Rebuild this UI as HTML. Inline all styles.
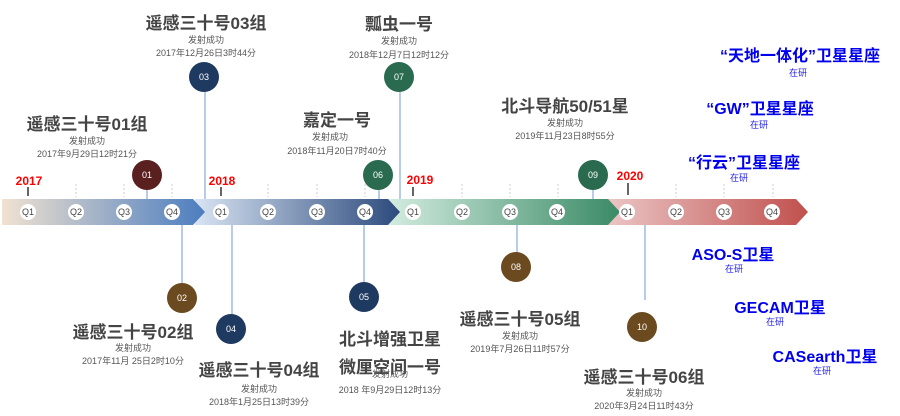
<!DOCTYPE html>
<html><head><meta charset="utf-8"><style>
html,body{margin:0;padding:0;background:#fff;width:900px;height:416px;overflow:hidden}
svg text{font-family:"Liberation Sans","Noto Sans CJK SC",sans-serif}
.t{font-size:17px;font-weight:bold;fill:#444;text-anchor:middle}
.s{font-size:9px;fill:#555;text-anchor:middle}
.b{font-size:16px;font-weight:bold;fill:#0000ee;text-anchor:middle}
.bs{font-size:9px;fill:#2222ee;text-anchor:middle}
.y{font-size:12px;font-weight:bold;fill:#ff0000;text-anchor:middle}
.q{font-size:9px;fill:#444;text-anchor:middle}
.n{font-size:9px;fill:#fff;text-anchor:middle}
</style></head><body>
<svg width="900" height="416" viewBox="0 0 900 416">
<defs>
<linearGradient id="g1" x1="0" x2="1"><stop offset="0" stop-color="#f1e2d0"/><stop offset="1" stop-color="#4b7dbf"/></linearGradient>
<linearGradient id="g2" x1="0" x2="1"><stop offset="0" stop-color="#d9e4f3"/><stop offset="1" stop-color="#2b4a7c"/></linearGradient>
<linearGradient id="g3" x1="0" x2="1"><stop offset="0" stop-color="#d3ece0"/><stop offset="1" stop-color="#3a8a66"/></linearGradient>
<linearGradient id="g4" x1="0" x2="1"><stop offset="0" stop-color="#ebc6c6"/><stop offset="1" stop-color="#c0504d"/></linearGradient>
</defs>
<!-- connector lines -->
<g stroke="#8fb0dc" stroke-width="1.3">
<line x1="147" y1="188" x2="147" y2="200"/>
<line x1="182" y1="225" x2="182" y2="284"/>
<line x1="205" y1="92" x2="205" y2="200"/>
<line x1="232" y1="225" x2="232" y2="315"/>
<line x1="364" y1="225" x2="364" y2="283"/>
<line x1="379" y1="188" x2="379" y2="200"/>
<line x1="400" y1="92" x2="400" y2="200"/>
<line x1="517" y1="225" x2="517" y2="253"/>
<line x1="593" y1="188" x2="593" y2="200"/>
<line x1="645" y1="225" x2="645" y2="300"/>
</g>
<!-- bands -->
<polygon points="607,199 796,199 808,212 796,225 607,225" fill="url(#g4)"/>
<polygon points="388,199 608,199 620,212 608,225 388,225" fill="url(#g3)"/>
<polygon points="195,199 388,199 400,212 388,225 195,225" fill="url(#g2)"/>
<polygon points="2,199 193,199 205,212 193,225 2,225" fill="url(#g1)"/>
<!-- dotted ticks -->
<g stroke="#ccc" stroke-dasharray="2,2" stroke-width="1">
<line x1="76" y1="184" x2="76" y2="197"/><line x1="124" y1="184" x2="124" y2="197"/><line x1="172" y1="184" x2="172" y2="197"/>
<line x1="268" y1="184" x2="268" y2="197"/><line x1="317" y1="184" x2="317" y2="197"/><line x1="365" y1="184" x2="365" y2="197"/>
<line x1="462" y1="184" x2="462" y2="197"/><line x1="510" y1="184" x2="510" y2="197"/><line x1="558" y1="184" x2="558" y2="197"/>
<line x1="676" y1="184" x2="676" y2="197"/><line x1="724" y1="184" x2="724" y2="197"/><line x1="773" y1="184" x2="773" y2="197"/>
</g>
<g stroke="#333" stroke-width="1.5">
<line x1="28" y1="187" x2="28" y2="196"/><line x1="221" y1="187" x2="221" y2="196"/><line x1="413" y1="187" x2="413" y2="196"/><line x1="628" y1="183" x2="628" y2="195"/>
</g>
<text class="y" x="29" y="185">2017</text><text class="y" x="222" y="185">2018</text><text class="y" x="420" y="184">2019</text><text class="y" x="630" y="180">2020</text>
<!-- Q circles -->
<g fill="#fff">
<circle cx="28" cy="212" r="8"/><circle cx="76" cy="212" r="8"/><circle cx="124" cy="212" r="8"/><circle cx="172" cy="212" r="8"/>
<circle cx="221" cy="212" r="8"/><circle cx="268" cy="212" r="8"/><circle cx="317" cy="212" r="8"/><circle cx="365" cy="212" r="8"/>
<circle cx="413" cy="212" r="8"/><circle cx="462" cy="212" r="8"/><circle cx="510" cy="212" r="8"/><circle cx="557" cy="212" r="8"/>
<circle cx="627" cy="212" r="8"/><circle cx="676" cy="212" r="8"/><circle cx="724" cy="212" r="8"/><circle cx="772" cy="212" r="8"/>
</g>
<g class="q">
<text class="q" x="28" y="215">Q1</text><text class="q" x="76" y="215">Q2</text><text class="q" x="124" y="215">Q3</text><text class="q" x="172" y="215">Q4</text>
<text class="q" x="221" y="215">Q1</text><text class="q" x="268" y="215">Q2</text><text class="q" x="317" y="215">Q3</text><text class="q" x="365" y="215">Q4</text>
<text class="q" x="413" y="215">Q1</text><text class="q" x="462" y="215">Q2</text><text class="q" x="510" y="215">Q3</text><text class="q" x="557" y="215">Q4</text>
<text class="q" x="627" y="215">Q1</text><text class="q" x="676" y="215">Q2</text><text class="q" x="724" y="215">Q3</text><text class="q" x="772" y="215">Q4</text>
</g>
<!-- numbered circles -->
<circle cx="147" cy="175" r="15" fill="#5a1f1f"/><text class="n" x="147" y="178">01</text>
<circle cx="182" cy="298" r="15" fill="#6b4a1f"/><text class="n" x="182" y="301">02</text>
<circle cx="204" cy="77" r="15" fill="#1f3a60"/><text class="n" x="204" y="80">03</text>
<circle cx="231" cy="329" r="15" fill="#1f3a60"/><text class="n" x="231" y="332">04</text>
<circle cx="364" cy="297" r="15" fill="#1f3a60"/><text class="n" x="364" y="300">05</text>
<circle cx="378" cy="175" r="15" fill="#2a6a4f"/><text class="n" x="378" y="178">06</text>
<circle cx="399" cy="77" r="15" fill="#2a6a4f"/><text class="n" x="399" y="80">07</text>
<circle cx="516" cy="267" r="15" fill="#6b4a1f"/><text class="n" x="516" y="270">08</text>
<circle cx="593" cy="175" r="15" fill="#2a6a4f"/><text class="n" x="593" y="178">09</text>
<circle cx="642" cy="327" r="15" fill="#6b4a1f"/><text class="n" x="642" y="330">10</text>
<!-- labels -->
<text class="t" x="206" y="29">遥感三十号03组</text><text class="s" x="206" y="43">发射成功</text><text class="s" x="206" y="56">2017年12月26日3时44分</text>
<text class="t" x="87" y="130">遥感三十号01组</text><text class="s" x="87" y="144">发射成功</text><text class="s" x="87" y="157">2017年9月29日12时21分</text>
<text class="t" x="399" y="30">瓢虫一号</text><text class="s" x="399" y="44">发射成功</text><text class="s" x="399" y="58">2018年12月7日12时12分</text>
<text class="t" x="337" y="126">嘉定一号</text><text class="s" x="330" y="140">发射成功</text><text class="s" x="337" y="154">2018年11月20日7时40分</text>
<text class="t" x="565" y="112">北斗导航50/51星</text><text class="s" x="565" y="126">发射成功</text><text class="s" x="565" y="139">2019年11月23日8时55分</text>
<text class="t" x="133" y="338">遥感三十号02组</text><text class="s" x="133" y="351">发射成功</text><text class="s" x="133" y="364">2017年11月 25日2时10分</text>
<text class="t" x="259" y="376">遥感三十号04组</text><text class="s" x="259" y="392">发射成功</text><text class="s" x="259" y="405">2018年1月25日13时39分</text>
<text class="t" x="390" y="345">北斗增强卫星</text><text class="t" x="390" y="373">微厘空间一号</text><text class="s" x="390" y="377">发射成功</text><text class="s" x="390" y="393">2018 年9月29日12时13分</text>
<text class="t" x="520" y="325">遥感三十号05组</text><text class="s" x="520" y="339">发射成功</text><text class="s" x="520" y="352">2019年7月26日11时57分</text>
<text class="t" x="644" y="383">遥感三十号06组</text><text class="s" x="644" y="396">发射成功</text><text class="s" x="644" y="409">2020年3月24日11时43分</text>
<!-- blue -->
<text class="b" x="800" y="61">“天地一体化”卫星星座</text><text class="bs" x="798" y="76">在研</text>
<text class="b" x="760" y="114">“GW”卫星星座</text><text class="bs" x="759" y="128">在研</text>
<text class="b" x="744" y="168">“行云”卫星星座</text><text class="bs" x="739" y="181">在研</text>
<text class="b" x="733" y="260">ASO-S卫星</text><text class="bs" x="734" y="272">在研</text>
<text class="b" x="780" y="313">GECAM卫星</text><text class="bs" x="775" y="325">在研</text>
<text class="b" x="825" y="362">CASearth卫星</text><text class="bs" x="822" y="374">在研</text>
</svg>
</body></html>
